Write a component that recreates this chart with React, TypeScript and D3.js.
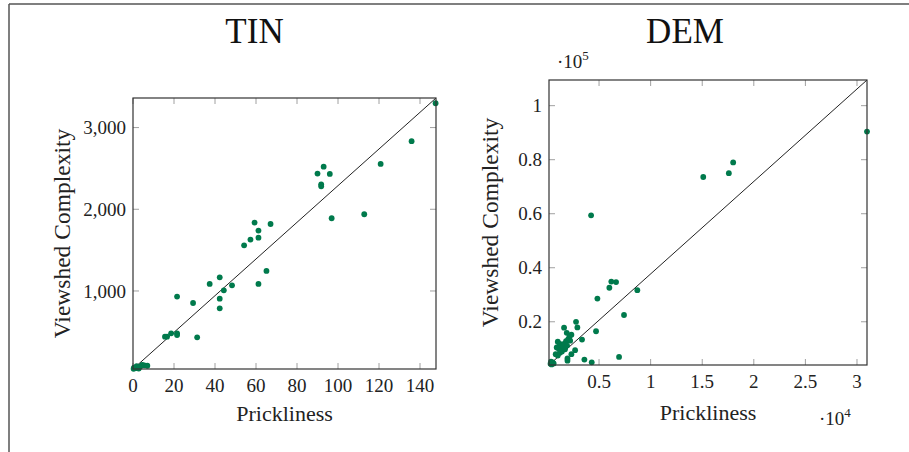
import React from "react";
import * as d3 from "d3";

// ---------- data ----------
const TIN_X = [147.6, 135.9, 120.8, 90.0, 93.0, 96.0, 91.8, 91.8, 96.9, 112.8, 59.3, 67.1, 61.2, 61.2, 57.3, 54.2, 65.1, 42.3, 37.4, 61.2, 48.3, 44.3, 42.3, 42.3, 21.5, 29.3, 31.3, 15.6, 16.6, 18.6, 21.5, 21.5, 0.5, 1.2, 2.0, 2.8, 3.5, 4.5, 5.5, 7.0, 1.8, 0.3];
const TIN_Y = [3298, 2833, 2555, 2437, 2522, 2433, 2306, 2282, 1890, 1939, 1837, 1820, 1739, 1653, 1629, 1559, 1245, 1167, 1086, 1086, 1069, 1008, 906, 788, 931, 853, 433, 441, 441, 482, 482, 461, 60, 55, 70, 50, 75, 95, 90, 85, 80, 48];

const DEM_X = [30970, 18000, 17580, 15100, 4230, 6190, 6650, 6000, 8710, 4840, 7420, 4710, 3350, 6940, 3580, 4290,
  2770, 2900, 1610, 1870, 2320, 2120, 2680, 2320, 1940, 1940,
  1000, 1200, 1400, 1600, 1800, 2000, 2200, 900, 1100, 1300, 1500, 1700, 1900, 800, 1000, 1200, 1400,
  500, 300, 400, 600, 350];
const DEM_Y = [90400, 79000, 75000, 73600, 59400, 34900, 34700, 32600, 31700, 28600, 22500, 16500, 13400, 7000, 6000, 5000,
  20000, 17900, 17800, 15900, 15200, 14400, 9500, 8000, 6400, 5600,
  12600, 11800, 11200, 11800, 12800, 13500, 13000, 10500, 10000, 9500, 10500, 9800, 11200, 8000, 7500, 8500, 9000,
  5000, 4500, 4200, 4600, 5200];

const TIN_X_TICKS = [0, 20, 40, 60, 80, 100, 120, 140];
const TIN_Y_TICKS = [1000, 2000, 3000];
const DEM_X_TICKS = [5000, 10000, 15000, 20000, 25000, 30000];
const DEM_Y_TICKS = [20000, 40000, 60000, 80000, 100000];

const FONT = "'Liberation Serif', 'DejaVu Serif', serif";
const GREEN = "#007a4c";

type PanelProps = {
  left: number; right: number; top: number; bottom: number;
  xDomain: [number, number]; yDomain: [number, number];
  xs: number[]; ys: number[];
  xTicks: number[]; yTicks: number[];
  xFmt: (v: number) => string; yFmt: (v: number) => string;
  xLabelY: number; yLabelX: number; tickLabelY: number;
};

function Panel(p: PanelProps) {
  const x = d3.scaleLinear().domain(p.xDomain).range([p.left, p.right]);
  const y = d3.scaleLinear().domain(p.yDomain).range([p.bottom, p.top]);
  const tl = 6;
  const tickColor = "#a0a0a0";
  return (
    <g>
      {p.xTicks.map((t) => (
        <g key={"xt" + t}>
          <line x1={x(t)} x2={x(t)} y1={p.bottom} y2={p.bottom - tl} stroke={tickColor} strokeWidth={1} />
          <line x1={x(t)} x2={x(t)} y1={p.top} y2={p.top + tl} stroke={tickColor} strokeWidth={1} />
          <text x={x(t)} y={p.tickLabelY} textAnchor="middle" fontFamily={FONT} fontSize={19} fill="#222">{p.xFmt(t)}</text>
        </g>
      ))}
      {p.yTicks.map((t) => (
        <g key={"yt" + t}>
          <line x1={p.left} x2={p.left + tl} y1={y(t)} y2={y(t)} stroke={tickColor} strokeWidth={1} />
          <line x1={p.right} x2={p.right - tl} y1={y(t)} y2={y(t)} stroke={tickColor} strokeWidth={1} />
          <text x={p.left - 7} y={y(t)} dy="0.35em" textAnchor="end" fontFamily={FONT} fontSize={19} fill="#222">{p.yFmt(t)}</text>
        </g>
      ))}
      <line x1={x(p.xDomain[0])} y1={y(p.yDomain[0])} x2={x(p.xDomain[1])} y2={y(p.yDomain[1])} stroke="#222" strokeWidth={1} />
      {p.xs.map((v, i) => (
        <circle key={i} cx={x(v)} cy={y(p.ys[i])} r={2.9} fill={GREEN} />
      ))}
      <rect x={p.left} y={p.top} width={p.right - p.left} height={p.bottom - p.top} fill="none" stroke="#333" strokeWidth={1.2} />
      <text x={(p.left + p.right) / 2} y={p.xLabelY} textAnchor="middle" fontFamily={FONT} fontSize={22} fill="#222">Prickliness</text>
      <text transform={`translate(${p.yLabelX},${(p.top + p.bottom) / 2}) rotate(-90)`} textAnchor="middle" fontFamily={FONT} fontSize={23.5} fill="#222">Viewshed Complexity</text>
    </g>
  );
}

export default function App() {
  const comma = d3.format(",");
  return (
    <svg width={909} height={452} style={{ position: "absolute", left: 0, top: 0, background: "#fff" }}>
      <rect x={0} y={0} width={909} height={452} fill="#fff" />
      <line x1={9} y1={4} x2={909} y2={4} stroke="#555" strokeWidth={1.5} />
      <line x1={9} y1={4} x2={9} y2={452} stroke="#555" strokeWidth={1.5} />
      <text x={254.5} y={42.5} textAnchor="middle" fontFamily={FONT} fontSize={35} fill="#111">TIN</text>
      <text x={685} y={42.5} textAnchor="middle" fontFamily={FONT} fontSize={35} fill="#111">DEM</text>
      <Panel left={133} right={436} top={98} bottom={369}
        xDomain={[0, 147.8]} yDomain={[45, 3362]}
        xs={TIN_X} ys={TIN_Y} xTicks={TIN_X_TICKS} yTicks={TIN_Y_TICKS}
        xFmt={(v) => String(v)} yFmt={(v) => comma(v)}
        xLabelY={421} yLabelX={70} tickLabelY={392} />
      <Panel left={549} right={867} top={80} bottom={365}
        xDomain={[150, 30970]} yDomain={[4000, 109500]}
        xs={DEM_X} ys={DEM_Y} xTicks={DEM_X_TICKS} yTicks={DEM_Y_TICKS}
        xFmt={(v) => String(v / 10000)} yFmt={(v) => String(v / 100000)}
        xLabelY={420} yLabelX={498} tickLabelY={388} />
      <text x={557} y={68} fontFamily={FONT} fontSize={19} fill="#222">·10<tspan dy={-8} fontSize={13}>5</tspan></text>
      <text x={819} y={425} fontFamily={FONT} fontSize={19} fill="#222">·10<tspan dy={-8} fontSize={13}>4</tspan></text>
    </svg>
  );
}
